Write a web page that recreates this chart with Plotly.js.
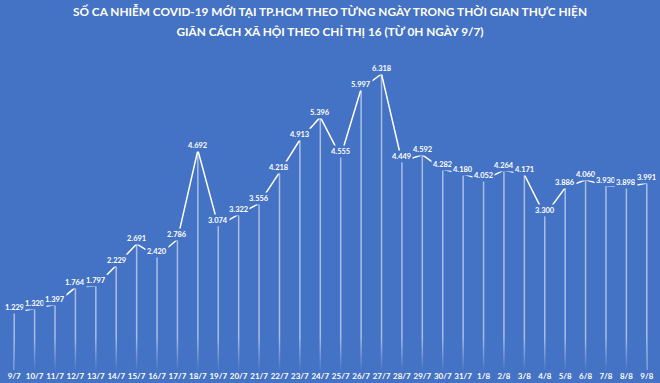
<!DOCTYPE html>
<html><head><meta charset="utf-8">
<script src="https://cdn.plot.ly/plotly-3.0.1.min.js"></script>
<style>html,body{margin:0;padding:0;background:#4472C4;}#chart{width:660px;height:383px;}</style>
</head><body><div id="chart"></div>
<script>
const dates = ["9/7","10/7","11/7","12/7","13/7","14/7","15/7","16/7","17/7","18/7","19/7","20/7","21/7","22/7","23/7","24/7","25/7","26/7","27/7","28/7","29/7","30/7","31/7","1/8","2/8","3/8","4/8","5/8","6/8","7/8","8/8","9/8"];
const cases = [1229,1320,1397,1764,1797,2229,2691,2420,2786,4692,3074,3322,3556,4218,4913,5396,4555,5997,6318,4449,4592,4282,4180,4052,4264,4171,3300,3886,4060,3930,3898,3991];
const titleLines = ["SỐ CA NHIỄM COVID-19 MỚI TẠI TP.HCM THEO TỪNG NGÀY TRONG THỜI GIAN THỰC HIỆN",
                    "GIÃN CÁCH XÃ HỘI THEO CHỈ THỊ 16 (TỪ 0H NGÀY 9/7)"];

const BG = "#4472C4";
const FONT = "Lato, 'Open Sans', sans-serif";
function fmt(v){ return String(v).replace(/\B(?=(\d{3})+(?!\d))/g, "."); }

const drops = {
  x: dates, y: cases, type: "scatter", mode: "markers",
  marker: {size: 1, color: "rgba(0,0,0,0)"},
  error_y: {type: "data", symmetric: false, array: cases.map(() => 0), arrayminus: cases,
            width: 0, thickness: 1.5, color: "rgba(255,255,255,0.55)"},
  hoverinfo: "skip", showlegend: false
};
const fade = {
  x: dates, y: dates.map(() => 700), type: "scatter", mode: "lines",
  line: {width: 0}, fill: "tozeroy",
  fillgradient: {type: "vertical", colorscale: [[0, "rgba(68,114,196,0.95)"], [1, "rgba(68,114,196,0)"]]},
  hoverinfo: "skip", showlegend: false
};
const line = {
  x: dates, y: cases, type: "scatter", mode: "lines",
  line: {color: "#ffffff", width: 1.5},
  hoverinfo: "skip", showlegend: false
};
const annotations = dates.map((d, i) => ({
  x: d, y: cases[i], xref: "x", yref: "y", text: "<b>" + fmt(cases[i]) + "</b>",
  showarrow: false, yshift: 5, bgcolor: BG, borderpad: 1,
  font: {family: FONT, size: 7.5, color: "#ffffff"}
}));

const titleHtml = titleLines.map(t => "<span style='font-size:11.8px'><b>" + t + "</b></span>").join("<br>");

const layout = {
  width: 660, height: 383,
  paper_bgcolor: BG, plot_bgcolor: BG,
  margin: {l: 4, r: 3, t: 42, b: 13, autoexpand: false},
  title: {text: titleHtml, x: 0.5, xanchor: "center",
          yref: "container", y: 0.959, yanchor: "top",
          font: {family: FONT, size: 15.4, color: "#ffffff"}},
  xaxis: {type: "category", range: [-0.5, 31.5], automargin: false, tickangle: 0,
          showgrid: false, zeroline: false, showline: false, ticks: "",
          tickfont: {family: FONT, size: 8, color: "#ffffff", weight: "bold"}, fixedrange: true},
  yaxis: {range: [0, 7000], visible: false, showgrid: false, zeroline: false, fixedrange: true, automargin: false},
  annotations: annotations,
  showlegend: false
};
Plotly.newPlot("chart", [drops, fade, line], layout, {displayModeBar: false, staticPlot: true});
</script></body></html>
